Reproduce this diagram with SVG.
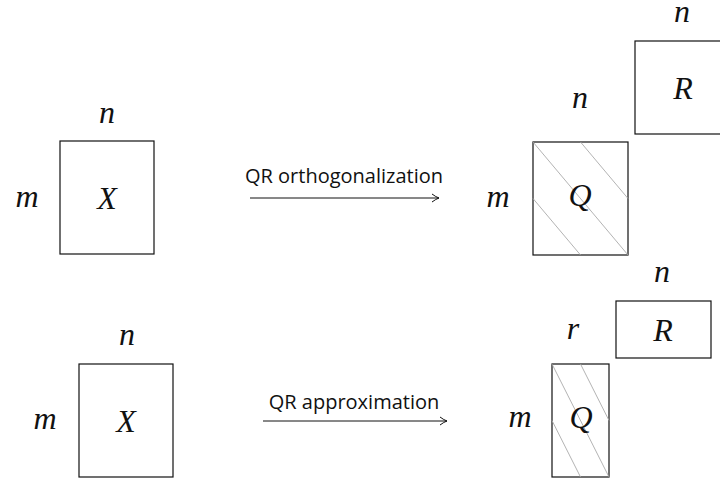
<svg xmlns="http://www.w3.org/2000/svg" width="720" height="481" viewBox="0 0 720 481">
  <style>
    .box { fill: #fff; stroke: #111; stroke-width: 1.2; }
    .hatch { stroke: #aaa; stroke-width: 0.9; fill: none; }
    .math { font-family: 'Liberation Serif', serif; font-style: italic; font-size: 32px; fill: #111; text-anchor: middle; }
    .lbl { font-family: "Open Sans", "Noto Sans", sans-serif; font-size: 20px; fill: #111; text-anchor: middle; }
    .arrow { stroke: #111; stroke-width: 1; fill: none; }
  </style>
  <defs>
    <marker id="to" markerWidth="10" markerHeight="10" refX="8" refY="5" orient="auto" markerUnits="userSpaceOnUse">
      <path d="M1,1 Q5,4 8,5 Q5,6 1,9" fill="none" stroke="#111" stroke-width="1"/>
    </marker>
  </defs>

  <!-- top row: full QR -->
  <g id="X1">
    <rect class="box" x="60" y="141" width="94" height="113"/>
    <text class="math" x="107" y="209">X</text>
    <text class="math" x="107" y="123">n</text>
    <text class="math" x="27" y="207">m</text>
  </g>
  <g id="Q1">
    <rect class="box" x="533" y="142" width="95" height="113"/>
    <path class="hatch" d="M533,142 L628,255 M580.5,142 L628,198.5 M533,198.5 L580.5,255"/>
    <text class="math" x="580" y="206">Q</text>
    <text class="math" x="580" y="108">n</text>
    <text class="math" x="498" y="207">m</text>
  </g>
  <g id="R1">
    <rect class="box" x="635" y="41" width="100" height="93"/>
    <text class="math" x="683" y="99">R</text>
    <text class="math" x="682" y="22">n</text>
  </g>

  <!-- bottom row: truncated QR -->
  <g id="X2">
    <rect class="box" x="79" y="364" width="94" height="113"/>
    <text class="math" x="126" y="432">X</text>
    <text class="math" x="127" y="345">n</text>
    <text class="math" x="45" y="429">m</text>
  </g>
  <g id="Q2">
    <rect class="box" x="552" y="364" width="57" height="113"/>
    <path class="hatch" d="M552,364 L609,477 M580.5,364 L609,420.5 M552,420.5 L580.5,477"/>
    <text class="math" x="581" y="428">Q</text>
    <text class="math" x="573" y="339">r</text>
    <text class="math" x="520" y="427">m</text>
  </g>
  <g id="R2">
    <rect class="box" x="616" y="301" width="95" height="57"/>
    <text class="math" x="663" y="341">R</text>
    <text class="math" x="662" y="282">n</text>
  </g>

  <g id="connectors">
    <line class="arrow" x1="250" y1="198" x2="439" y2="198" marker-end="url(#to)"/>
    <text class="lbl" x="344" y="183">QR orthogonalization</text>
    <line class="arrow" x1="263" y1="421" x2="447" y2="421" marker-end="url(#to)"/>
    <text class="lbl" x="354" y="409">QR approximation</text>
  </g>
</svg>
